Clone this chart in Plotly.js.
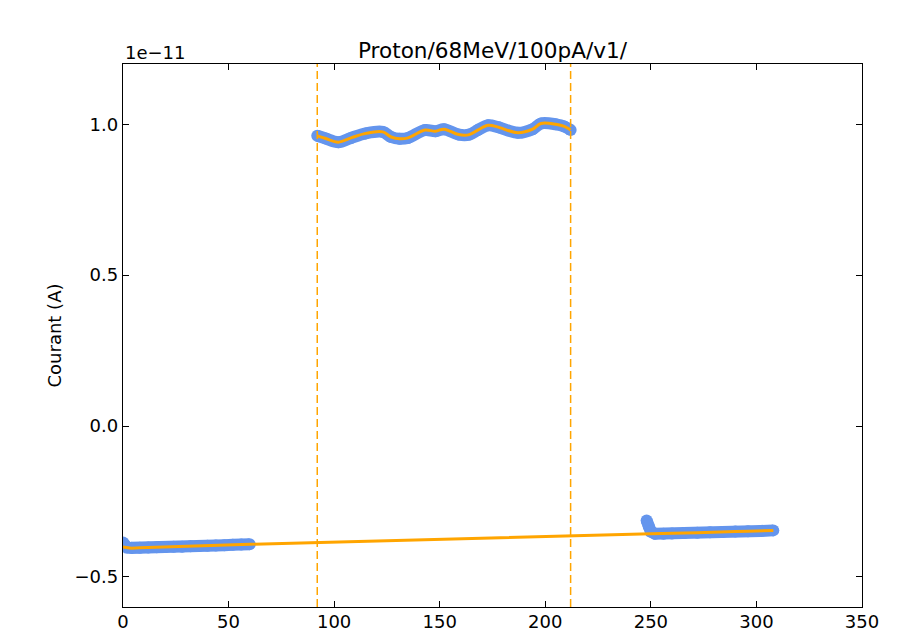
<!DOCTYPE html>
<html>
<head>
<meta charset="utf-8">
<script src="https://cdn.plot.ly/plotly-3.0.1.min.js"></script>
<style>html,body{margin:0;padding:0;background:#fff;}#chart{width:916px;height:631px;}</style>
</head>
<body>
<div id="chart"></div>
<script>
// Values in units of 1e-11 A
const bg1X = [0, 1, 2, 4, 8, 12, 16, 20, 24, 28, 32, 36, 40, 44, 48, 52, 56, 60];
const bg1Y = [-0.386, -0.398, -0.403, -0.404, -0.404, -0.403, -0.402, -0.401, -0.400, -0.400, -0.399, -0.398, -0.397, -0.396, -0.395, -0.394, -0.393, -0.392];

const beamX = [92, 96, 102, 108, 115, 123, 127, 131, 135, 143, 148, 152, 159, 164, 168, 173, 178, 187, 194, 198, 205, 209, 212];
const beamY = [0.962, 0.953, 0.941, 0.955, 0.970, 0.975, 0.958, 0.952, 0.955, 0.981, 0.977, 0.984, 0.966, 0.966, 0.981, 0.997, 0.990, 0.972, 0.984, 1.003, 1.000, 0.993, 0.981];

const bg2X = [248, 249, 250, 252, 256, 260, 266, 272, 278, 284, 290, 296, 302, 308];
const bg2Y = [-0.313, -0.332, -0.350, -0.357, -0.357, -0.356, -0.355, -0.354, -0.352, -0.351, -0.350, -0.349, -0.348, -0.346];

const fitX = [0, 2, 4, 8, 12, 16, 20, 24, 28, 32, 36, 40, 44, 48, 52, 56, 60, 250, 252, 256, 260, 266, 272, 278, 284, 290, 296, 302, 308];
const fitY = [-0.401, -0.404, -0.405, -0.404, -0.403, -0.402, -0.401, -0.400, -0.400, -0.399, -0.398, -0.397, -0.396, -0.395, -0.394, -0.393, -0.392, -0.357, -0.357, -0.357, -0.356, -0.355, -0.354, -0.352, -0.351, -0.350, -0.349, -0.348, -0.346];

const beamBounds = [92, 212];
const xTicks = [0, 50, 100, 150, 200, 250, 300, 350];
const yTicks = [-0.5, 0.0, 0.5, 1.0];
const yTickLabels = ['\u22120.5', '0.0', '0.5', '1.0'];

const BLUE = '#6495ED';
const ORANGE = '#FFA500';

function blueTrace(x, y, shape) {
  return {x: x, y: y, type: 'scatter', mode: 'lines+markers',
    line: {color: BLUE, width: 12, shape: shape},
    marker: {color: BLUE, size: 12, line: {width: 0}},
    hoverinfo: 'skip'};
}

const traces = [
  blueTrace(bg1X, bg1Y, 'linear'),
  blueTrace(beamX, beamY, 'spline'),
  blueTrace(bg2X, bg2Y, 'linear'),
  {x: fitX, y: fitY, type: 'scatter', mode: 'lines', line: {color: ORANGE, width: 3}, hoverinfo: 'skip'},
  {x: beamX, y: beamY, type: 'scatter', mode: 'lines', line: {color: ORANGE, width: 3, shape: 'spline'}, hoverinfo: 'skip'}
];

const shapes = beamBounds.map(b => ({
  type: 'line', xref: 'x', yref: 'paper', x0: b, x1: b, y0: 0, y1: 1,
  line: {color: ORANGE, width: 1.5, dash: '8px,4px'}
}));

const axisCommon = {
  showline: true, linecolor: 'black', linewidth: 1.2, mirror: 'allticks',
  ticks: 'inside', ticklen: 6, tickwidth: 1, tickcolor: 'black',
  showgrid: false, zeroline: false,
  tickfont: {family: 'DejaVu Sans', size: 18, color: 'black'}
};

const layout = {
  width: 916, height: 631,
  margin: {l: 123, r: 54, t: 64, b: 24},
  paper_bgcolor: 'white', plot_bgcolor: 'white',
  showlegend: false,
  font: {family: 'DejaVu Sans', size: 18, color: 'black'},
  title: {text: 'Proton/68MeV/100pA/v1/', font: {family: 'DejaVu Sans', size: 21.6, color: 'black'},
    xref: 'paper', x: 0.5, xanchor: 'center', yref: 'container', y: 1 - 50 / 631, yanchor: 'middle'},
  xaxis: Object.assign({}, axisCommon, {range: [0, 350], tickvals: xTicks, ticktext: xTicks.map(String), ticklabelstandoff: -2}),
  yaxis: Object.assign({}, axisCommon, {range: [-0.6, 1.2], tickvals: yTicks, ticktext: yTickLabels,
    title: {text: 'Courant (A)', font: {family: 'DejaVu Sans', size: 18, color: 'black'}, standoff: 8}}),
  shapes: shapes,
  annotations: [{text: '1e\u221211', xref: 'paper', yref: 'paper', x: 0, y: 1 + 12 / 543,
    xanchor: 'left', yanchor: 'middle', showarrow: false, font: {family: 'DejaVu Sans', size: 18, color: 'black'}}]
};

Plotly.newPlot('chart', traces, layout, {displayModeBar: false, staticPlot: true});
</script>
</body>
</html>
